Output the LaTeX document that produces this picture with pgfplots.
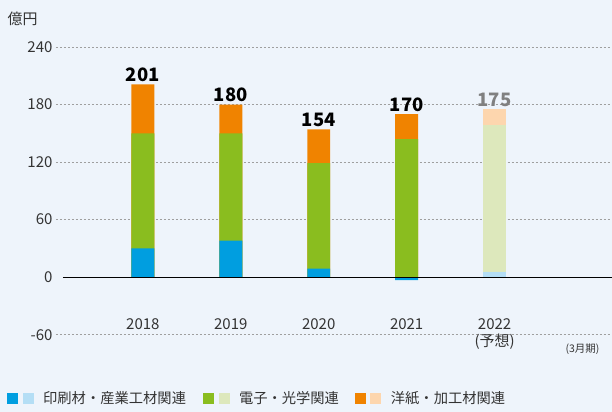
\documentclass[border=0pt]{standalone}
\usepackage{pgfplots}
\pgfplotsset{compat=1.18}
\usepackage{fontspec}
\setmainfont{Noto Sans CJK JP}
\definecolor{bg}{RGB}{238,244,251}
\definecolor{cblue}{RGB}{0,158,224}
\definecolor{lblue}{RGB}{180,222,245}
\definecolor{cgreen}{RGB}{138,189,31}
\definecolor{lgreen}{RGB}{221,232,188}
\definecolor{corange}{RGB}{240,131,0}
\definecolor{lorange}{RGB}{253,214,174}
\definecolor{txt}{RGB}{51,51,51}
\begin{document}
\begin{tikzpicture}[x=1pt,y=1pt]
\fill[bg] (0,0) rectangle (612,412);
\begin{axis}[at={(56pt,77pt)}, anchor=south west, scale only axis,
  width=556pt, height=288pt,
  xmin=-0.9886, xmax=5.3295, ymin=-60, ymax=240,
  clip=false,
  axis line style={draw=none},
  major tick length=0pt,
  /pgf/number format/assume math mode=true,
  ytick={-60,60,120,180,240},
  extra y ticks={0},
  extra y tick style={grid=none},
  ymajorgrids,
  major grid style={draw=gray!75, line width=0.6pt, dash pattern=on 2pt off 2pt},
  yticklabel style={font=\fontsize{15}{15}\selectfont, text=txt},
  xtick={0,1,2,3,4},
  xticklabels={2018,2019,2020,2021,{2022\\(予想)}},
  xticklabel style={font=\fontsize{15}{17}\selectfont, text=txt, align=center, anchor=north, yshift=20pt},
  nodes near coords style={font=\bfseries\fontsize{18.5}{18.5}\selectfont, anchor=south, yshift=-1pt},
]
\addplot[ybar, bar width=23pt, bar shift=0pt, fill=corange, draw=none, nodes near coords, every node near coord/.append style={text=black}] coordinates {(0,201) (1,180) (2,154) (3,170)};
\addplot[ybar, bar width=23pt, bar shift=0pt, fill=cgreen, draw=none] coordinates {(0,150) (1,150) (2,119) (3,144)};
\addplot[ybar, bar width=23pt, bar shift=0pt, fill=cblue, draw=none] coordinates {(0,30) (1,38) (2,9) (3,-3)};
\addplot[ybar, bar width=23pt, bar shift=0pt, fill=lorange, draw=none, nodes near coords, every node near coord/.append style={text=gray}] coordinates {(4,175)};
\addplot[ybar, bar width=23pt, bar shift=0pt, fill=lgreen, draw=none] coordinates {(4,159)};
\addplot[ybar, bar width=23pt, bar shift=0pt, fill=lblue, draw=none] coordinates {(4,5)};
\addplot[black, line width=1pt, mark=none] coordinates {(-0.909,0) (5.3295,0)};
\node[font=\fontsize{10.5}{10.5}\selectfont, text=txt] at (axis cs:5.0,-75.5) {(3月期)};
\end{axis}
\node[anchor=west, font=\fontsize{15}{15}\selectfont, text=txt] at (4,393) {億円};
\fill[cblue] (7,8) rectangle (18,19);
\fill[lblue] (23,8) rectangle (34,19);
\node[anchor=west, font=\fontsize{14.3}{14.3}\selectfont, text=txt, inner sep=0pt] at (43,13.5) {印刷材・産業工材関連};
\fill[cgreen] (203,8) rectangle (214,19);
\fill[lgreen] (219,8) rectangle (230,19);
\node[anchor=west, font=\fontsize{14.3}{14.3}\selectfont, text=txt, inner sep=0pt] at (239,13.5) {電子・光学関連};
\fill[corange] (355,8) rectangle (366,19);
\fill[lorange] (370,8) rectangle (381,19);
\node[anchor=west, font=\fontsize{14.3}{14.3}\selectfont, text=txt, inner sep=0pt] at (391,13.5) {洋紙・加工材関連};
\end{tikzpicture}
\end{document}
